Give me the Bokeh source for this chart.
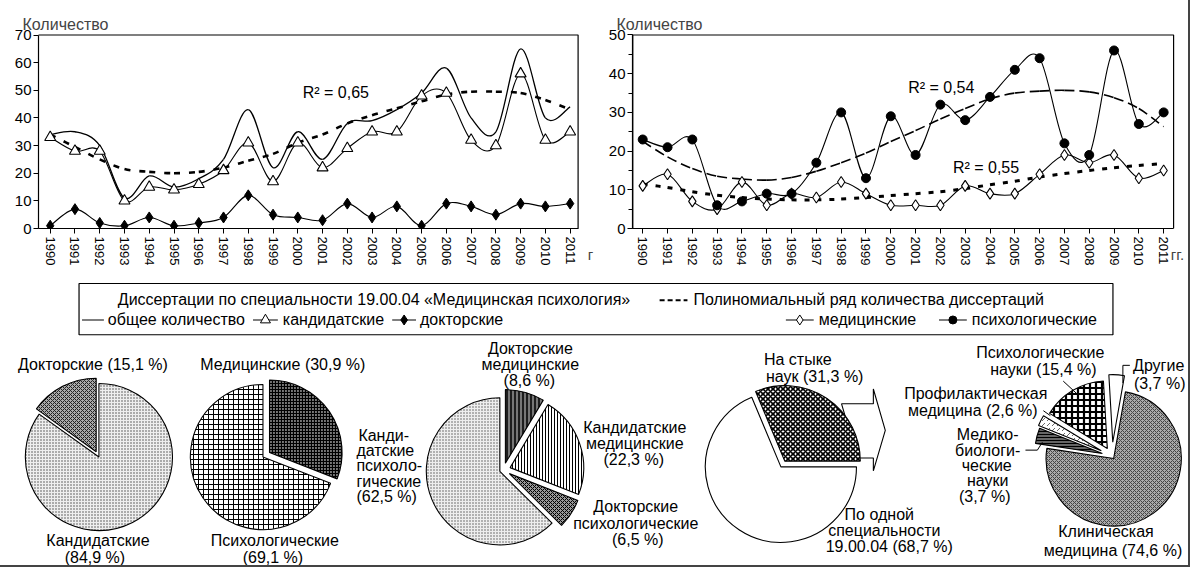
import numpy as np
from bokeh.plotting import figure
from bokeh.models import Range1d, FixedTicker, Label
from bokeh.layouts import column, row
from bokeh.embed import file_html
from bokeh.resources import INLINE
from bokeh.core.properties import value

FONT = "Liberation Sans"

# ---------------- data ----------------
years = list(range(1990, 2012))
cand = [33, 28, 28, 10, 15, 14, 16, 21, 31, 17, 31, 22, 29, 35, 35, 48, 49, 32, 30, 56, 32, 35]
doct = [1, 7, 2, 1, 4, 1, 2, 4, 12, 5, 4, 3, 9, 4, 8, 1, 9, 8, 5, 9, 8, 9]
total = [34, 35, 30, 11, 19, 15, 18, 25, 43, 22, 35, 25, 38, 39, 43, 49, 58, 40, 35, 65, 40, 44]
trend_total = [34, 29.5, 25, 21.5, 20.5, 20, 20.5, 22, 24.5, 27, 31, 34, 38, 41, 43.5, 46,
               48.5, 49.5, 49.5, 49, 46.5, 43]

psych = [23, 21, 23, 6, 7, 9, 9, 17, 30, 13, 29, 19, 32, 28, 34, 41, 44, 22, 19, 46, 27, 30]
med = [11, 14, 7, 5, 12, 6, 9, 8, 12, 9, 6, 6, 6, 11, 9, 9, 14, 19, 17, 19, 13, 15]
trend_psych = [22.5, 18.5, 15.5, 13.5, 12.8, 12.5, 13.2, 14.8, 17, 19.5, 22.5, 25.3, 28.3, 31,
               33.5, 35, 35.5, 35.7, 35.3, 33.8, 31, 26.3]
trend_med = [11.5, 10.6, 9.5, 8.6, 8, 7.6, 7.4, 7.4, 7.6, 8, 8.5, 9, 9.5, 10.3, 11.3, 12.2,
             13.3, 14.2, 15, 15.7, 16.3, 16.8]

r2_total = "R² = 0,65"
r2_psych = "R² = 0,54"
r2_med = "R² = 0,55"

pie1_names = ["Кандидатские", "Докторские"]
pie1_vals = [84.9, 15.1]
pie2_names = ["Медицинские", "Психологические"]
pie2_vals = [30.9, 69.1]
pie3_names = ["Докторские медицинские", "Кандидатские медицинские",
              "Докторские психологические", "Кандидатские психологические"]
pie3_vals = [8.6, 22.3, 6.5, 62.5]
pie4_names = ["На стыке наук", "По одной специальности 19.00.04"]
pie4_vals = [31.3, 68.7]
pie5_names = ["Клиническая медицина", "Медико-биологические науки", "Профилактическая медицина",
              "Психологические науки", "Другие"]
pie5_vals = [74.6, 3.7, 2.6, 15.4, 3.7]

# ---------------- layout geometry (reference pixels -> page) ----------------
W, H = 1188, 565
SX = W / 1195.0
SY = H / 573.0


def lx(r):
    return (r - 4) * SX


def ly(r):
    return (r - 4) * SY


TOP_H = round(ly(284))
BOT_H = H - TOP_H
LW = round(lx(608))
RW = W - LW


def bezier(p, xs, ys, **kw):
    n = len(xs)
    d = dict(x0=[], y0=[], x1=[], y1=[], cx0=[], cy0=[], cx1=[], cy1=[])
    for i in range(n - 1):
        xm, ym = (xs[i - 1], ys[i - 1]) if i > 0 else (xs[i], ys[i])
        xp, yp = (xs[i + 2], ys[i + 2]) if i + 2 < n else (xs[i + 1], ys[i + 1])
        d["x0"].append(xs[i]); d["y0"].append(ys[i])
        d["x1"].append(xs[i + 1]); d["y1"].append(ys[i + 1])
        d["cx0"].append(xs[i] + (xs[i + 1] - xm) / 6.0)
        d["cy0"].append(ys[i] + (ys[i + 1] - ym) / 6.0)
        d["cx1"].append(xs[i + 1] - (xp - xs[i]) / 6.0)
        d["cy1"].append(ys[i + 1] - (yp - ys[i]) / 6.0)
    p.bezier(line_color="black", **d, **kw)


def chart(x0, width, fx0, fx1, fxe, fy0, fy1, y1990, y2011, ymax, minor, unit):
    ppy = (y2011 - y1990) / 21.0
    ppv = (fy1 - fy0) / float(ymax)

    def XD(r):
        return 1990 + (r - y1990) / ppy

    def YD(r):
        return (fy1 - r) / ppv

    bl = round(lx(fx0)) - x0
    fr = round(lx(fxe)) - x0
    bt = round(ly(fy0)) - 2
    fb = round(ly(fy1))
    xs = XD(4 + (bl + x0) / SX)
    xe = XD(4 + (fr + x0) / SX)
    ye = YD(4 + bt / SY)
    p = figure(width=width, height=TOP_H, x_range=Range1d(xs, xe), y_range=Range1d(0, ye),
               output_backend="svg", toolbar_location=None,
               min_border_left=bl, min_border_right=width - fr, min_border_top=bt,
               min_border_bottom=TOP_H - fb)
    p.xgrid.visible = False
    p.ygrid.visible = False
    p.outline_line_color = None
    p.quad(left=[XD(fx0)], right=[XD(fx1)], bottom=[0], top=[ymax], fill_color=None,
           line_color="black", line_width=1.2)
    p.title.text = "Количество"
    p.title.align = "left"
    p.title.offset = -16
    p.title.text_font = FONT
    p.title.text_font_size = "16px"
    p.title.text_font_style = "normal"
    p.title.standoff = 1
    xa = p.xaxis[0]
    xa.bounds = (XD(fx0), XD(fx1))
    xa.ticker = FixedTicker(ticks=years)
    xa.major_label_orientation = "vertical"
    xa.major_label_text_font = FONT
    xa.major_label_text_font_size = "13px"
    xa.major_label_text_color = "black"
    xa.major_tick_in = 0
    xa.major_tick_out = 5
    xa.minor_tick_in = 0
    xa.minor_tick_out = 0
    xa.axis_line_color = "black"
    xa.axis_line_width = 1.2
    xa.major_label_standoff = 3
    xa.axis_label = unit
    xa.axis_label_align = "end"
    xa.axis_label_standoff = -22
    xa.axis_label_text_font = FONT
    xa.axis_label_text_font_size = "15px"
    xa.axis_label_text_font_style = "normal"
    ya = p.yaxis[0]
    ya.bounds = (0, ymax)
    ya.ticker = FixedTicker(ticks=list(range(0, ymax + 1, 10)),
                            minor_ticks=list(range(0, ymax + 1, 5)) if minor else [])
    ya.major_label_text_font = FONT
    ya.major_label_text_font_size = "15px"
    ya.major_label_text_color = "black"
    ya.major_tick_in = 0
    ya.major_tick_out = 5
    ya.minor_tick_in = 0
    ya.minor_tick_out = 4 if minor else 0
    ya.axis_line_color = "black"
    ya.axis_line_width = 1.2
    ya.major_label_standoff = 2
    return p, XD, YD


def label(p, x, y, text, size="16px", align="left"):
    p.add_layout(Label(x=x, y=y, text=text, text_font=FONT, text_font_size=size,
                       text_baseline="middle", text_align=align, text_color="black"))


# ---- left chart: ref box x 42..585, y 39..235; 1990 at 54, 2011 at 577
p1, Lx, Ly = chart(0, LW, 42, 585, 597, 39, 235, 54, 577, 70, False, "г")
bezier(p1, years, trend_total, line_width=2.6, line_dash="6 9")
bezier(p1, years, total, line_width=1.3)
bezier(p1, years, cand, line_width=1.1)
bezier(p1, years, doct, line_width=1.1)
p1.scatter(years, cand, marker="triangle", size=11, fill_color="white", line_color="black", line_width=1.1)
p1.scatter(years, doct, marker="diamond", size=11, fill_color="black", line_color="black")
label(p1, Lx(308), Ly(97), r2_total)

# ---- right chart: ref box x 640..1184, y 39..237; 1990 at 650, 2011 at 1174
p2, Rx, Ry = chart(LW, RW, 640, 1184, 1188, 39, 237, 650, 1174, 50, True, "гг.")
bezier(p2, years, trend_psych, line_width=1.6, line_dash="10 5")
bezier(p2, years, trend_med, line_width=3, line_dash="5 8")
bezier(p2, years, psych, line_width=1.1)
bezier(p2, years, med, line_width=1.1)
p2.scatter(years, med, marker="diamond", size=11, fill_color="white", line_color="black", line_width=1.1)
p2.scatter(years, psych, marker="circle", size=9, fill_color="black", line_color="black")
label(p2, Rx(917), Ry(93), r2_psych)
label(p2, Rx(962), Ry(175), r2_med)

# ---------------- bottom panel (data units = reference pixels) ----------------
pb = figure(width=W, height=BOT_H, x_range=Range1d(4, 4 + W / SX),
            y_range=Range1d(600 - 577, 600 - (4 + TOP_H / SY)),
            output_backend="svg", toolbar_location=None, min_border=0,
            x_axis_location=None, y_axis_location=None)
pb.grid.visible = False
pb.outline_line_color = None


def Y(r):
    return 600 - r


def txt(items, size="16px", align="center"):
    pb.text(x=[i[1] for i in items], y=[Y(i[2]) for i in items], text=[i[0] for i in items],
            text_font=value(FONT), text_font_size=size, text_align=align,
            text_baseline="middle", text_color="black")


# legend box
pb.quad(left=[83], right=[1123], top=[Y(291)], bottom=[Y(343)], fill_color=None,
        line_color="black", line_width=1.2)
txt([("Диссертации по специальности 19.00.04 «Медицинская психология»", 122, 307),
     ("Полиномиальный ряд количества диссертаций", 701, 307),
     ("общее количество", 112, 328), ("кандидатские", 288, 328), ("докторские", 426, 328),
     ("медицинские", 827, 328), ("психологические", 981, 328)], "16px", "left")
pb.line([667, 695], [Y(308), Y(308)], line_color="black", line_width=2, line_dash="5 3")
pb.multi_line([[86, 108], [258, 283], [398, 422], [794, 822], [948, 976]],
              [[Y(328)] * 2] * 5, line_color="black", line_width=1.2)
pb.scatter([270.5], [Y(328)], marker="triangle", size=10, fill_color="white", line_color="black")
pb.scatter([410], [Y(328)], marker="diamond", size=10, fill_color="black", line_color="black")
pb.scatter([808], [Y(328)], marker="diamond", size=10, fill_color="white", line_color="black")
pb.scatter([962], [Y(328)], marker="circle", size=8, fill_color="black", line_color="black")


def pie(cx, cy, r, vals, start, explode, styles):
    tot = float(sum(vals))
    a = np.radians(start)
    for v, e, st in zip(vals, explode, styles):
        span = v / tot * 2 * np.pi
        a0, a1 = a, a - span
        mid = (a0 + a1) / 2
        pb.wedge(x=[cx + e * np.cos(mid)], y=[Y(cy) + e * np.sin(mid)], radius=r,
                 start_angle=a1, end_angle=a0, line_color="black", line_width=1.1, **st)
        a = a1


# pie 4 arrow (drawn under the slice)
A = [(850, 413), (882, 413), (882, 398), (894, 440), (882, 481), (882, 468), (866, 468)]
pb.patch([a[0] for a in A], [Y(a[1]) for a in A], fill_color="white", line_color="black",
         line_width=1.1)

pie(103, 467, 74, pie1_vals, 90, [0, 6],
    [dict(fill_color="#eeeeee", hatch_pattern="dot", hatch_color="#444", hatch_scale=3,
          hatch_weight=1),
     dict(fill_color="#aaaaaa", hatch_pattern="diagonal_cross", hatch_color="#222",
          hatch_scale=4, hatch_weight=1)])
pie(268, 467, 73, pie2_vals, 90, [8, 0],
    [dict(fill_color="#777777", hatch_pattern="cross", hatch_color="black", hatch_scale=3,
          hatch_weight=1.2),
     dict(fill_color="white", hatch_pattern="cross", hatch_color="black", hatch_scale=5,
          hatch_weight=1)])
pie(510, 480, 74, pie3_vals, 90, [7, 7, 7, 4],
    [dict(fill_color="#777777", hatch_pattern="vertical_line", hatch_color="black",
          hatch_scale=4, hatch_weight=1.5),
     dict(fill_color="white", hatch_pattern="vertical_line", hatch_color="black",
          hatch_scale=3, hatch_weight=1),
     dict(fill_color="#999999", hatch_pattern="diagonal_cross", hatch_color="black",
          hatch_scale=4, hatch_weight=1),
     dict(fill_color="#eeeeee", hatch_pattern="dot", hatch_color="#555", hatch_scale=3,
          hatch_weight=1)])
pie(789, 477, 76, pie4_vals, 112.7, [7, 0],
    [dict(fill_color="white", hatch_pattern="diagonal_cross", hatch_color="black",
          hatch_scale=5, hatch_weight=1.6),
     dict(fill_color="white")])
pie(1122, 466, 68, pie5_vals, 80, [3, 10, 12, 9, 14],
    [dict(fill_color="#aaaaaa", hatch_pattern="diagonal_cross", hatch_color="#444",
          hatch_scale=4, hatch_weight=1),
     dict(fill_color="#666666", hatch_pattern="horizontal_line", hatch_color="black",
          hatch_scale=3, hatch_weight=1),
     dict(fill_color="white", hatch_pattern="right_diagonal_dash", hatch_color="#666",
          hatch_scale=5, hatch_weight=1),
     dict(fill_color="white", hatch_pattern="cross", hatch_color="black", hatch_scale=6,
          hatch_weight=2.2),
     dict(fill_color="white")])

# leader lines for pie 5
pb.multi_line([[1073, 1088], [1133, 1133, 1140], [1053, 1060], [1035, 1047, 1052]],
              [[Y(390), Y(404)], [Y(392), Y(374), Y(374)], [Y(420), Y(425)],
               [Y(460), Y(460), Y(452)]], line_color="black", line_width=1)

txt([("Докторские (15,1 %)", 97, 373), ("Кандидатские", 102, 552), ("(84,9 %)", 99, 569),
     ("Медицинские (30,9 %)", 288, 373), ("Психологические", 280, 552), ("(69,1 %)", 278, 569),
     ("Докторские", 537, 357), ("медицинские", 537, 373), ("(8,6 %)", 536, 389),
     ("Кандидатские", 642, 437), ("медицинские", 642, 453), ("(22,3 %)", 641, 469),
     ("Докторские", 643, 517), ("психологические", 643, 534), ("(6,5 %)", 645, 551),
     ("На стыке", 806, 368), ("наук (31,3 %)", 823, 385),
     ("По одной", 888, 525), ("специальности", 893, 542), ("19.00.04 (68,7 %)", 898, 558),
     ("Психологические", 1050, 361), ("науки (15,4 %)", 1053, 378),
     ("Другие", 1169, 374), ("(3,7 %)", 1170, 392),
     ("Профилактическая", 985, 403), ("медицина (2,6 %)", 982, 420),
     ("Медико-", 997, 444), ("биологи-", 997, 460), ("ческие", 996, 476), ("науки", 997, 491),
     ("(3,7 %)", 994, 507),
     ("Клиническая", 1116, 543), ("медицина (74,6 %)", 1123, 562)])
txt([("Канди-", 364, 445), ("датские", 362, 460), ("психоло-", 362, 476), ("гические", 362, 492),
     ("(62,5 %)", 362, 507)], "16px", "left")

layout = column(row(p1, p2), pb, styles={"outline": "2px solid #444"})
open("out.html", "w").write(file_html(layout, INLINE))
